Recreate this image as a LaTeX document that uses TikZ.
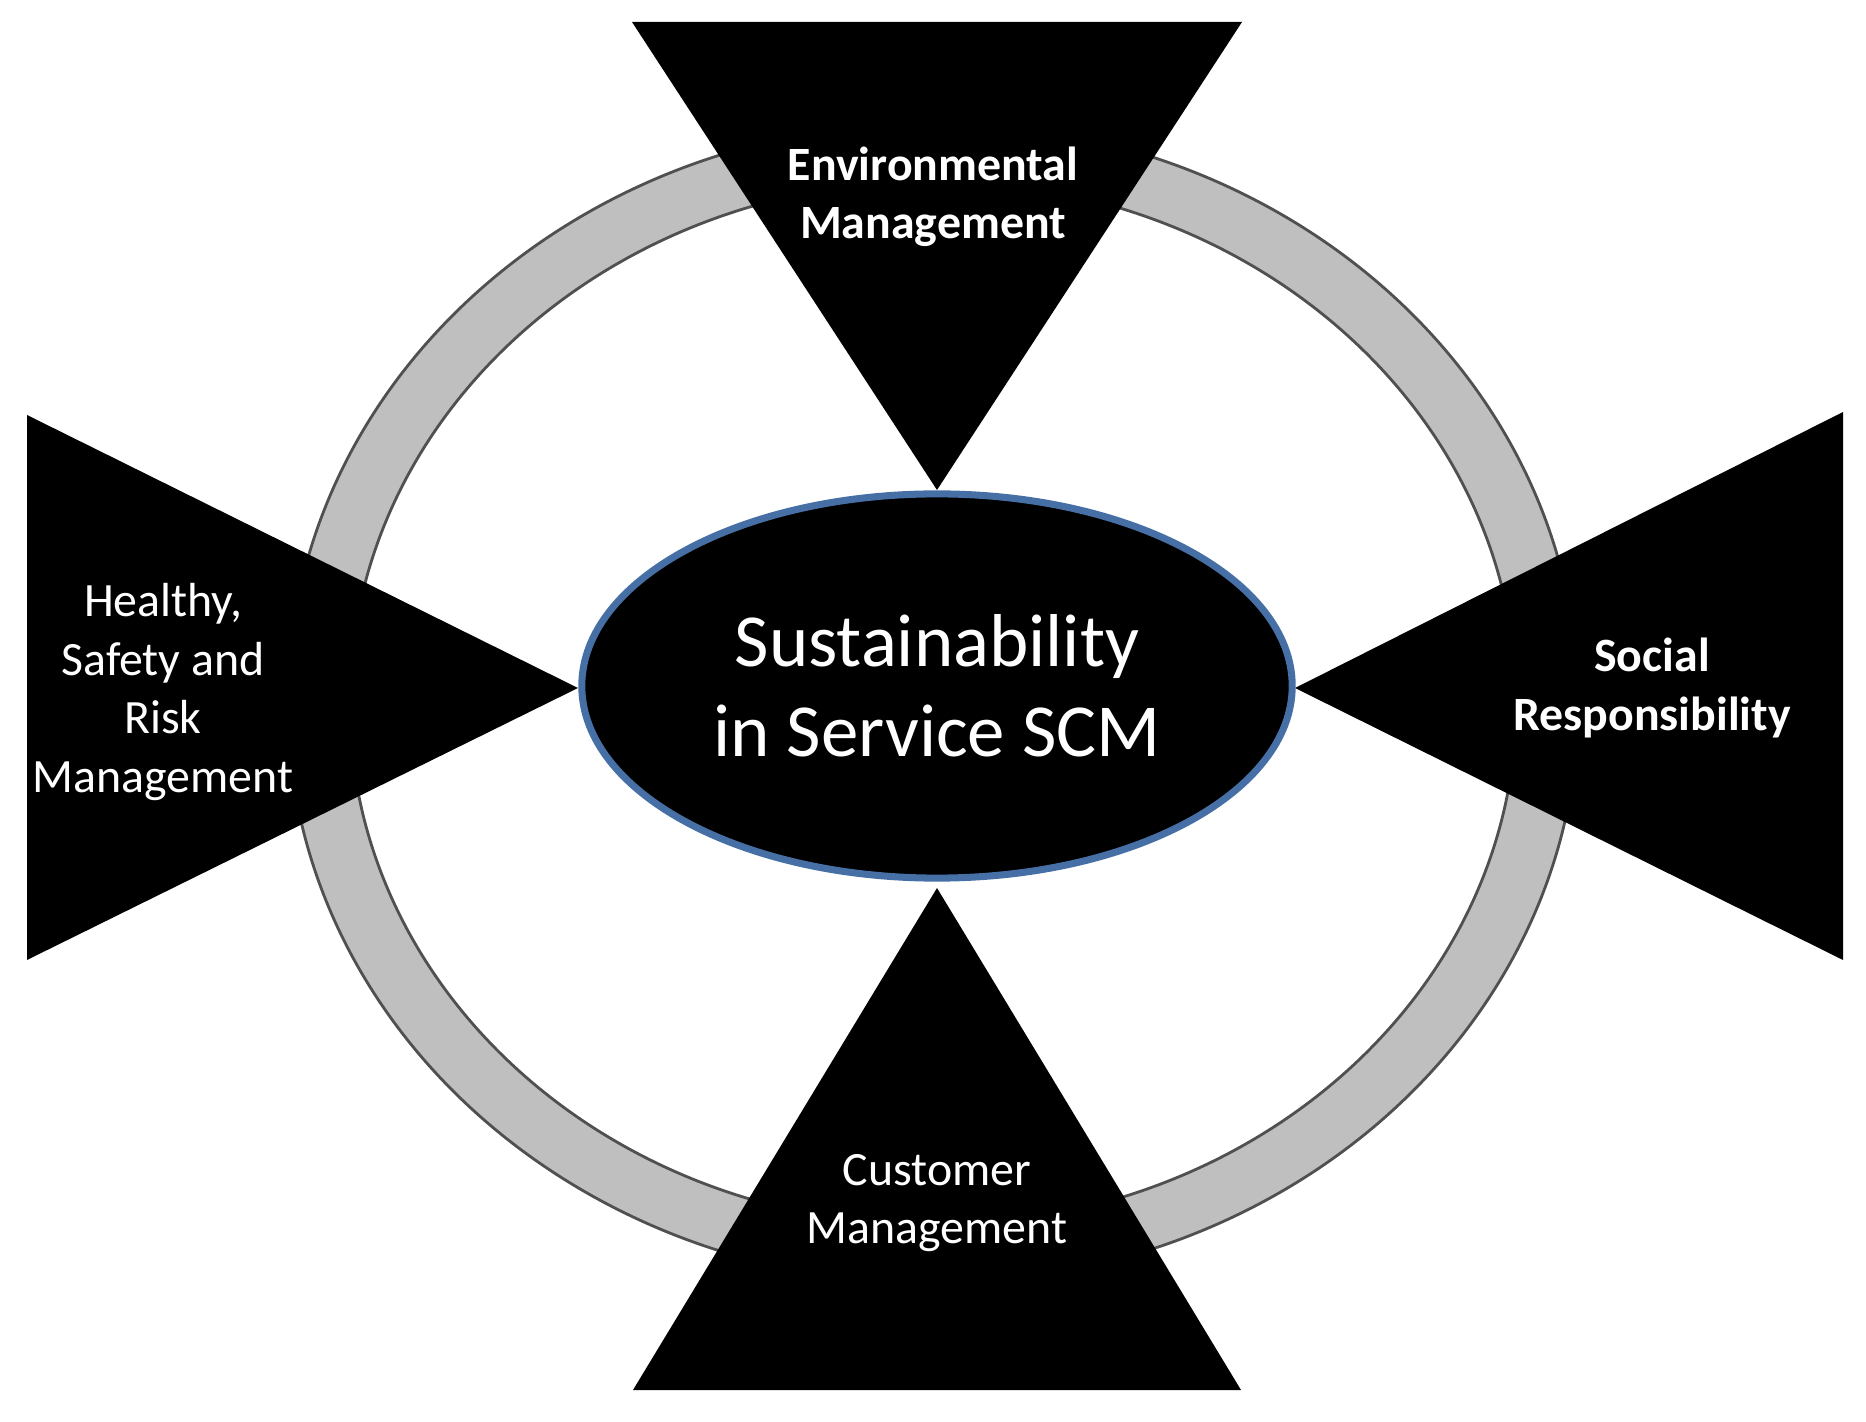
\documentclass[tikz,border=0pt]{standalone}
\usepackage{fontspec}
\setmainfont{Carlito}
\usetikzlibrary{shapes.geometric,positioning}
\definecolor{ringfill}{RGB}{191,191,191}
\definecolor{ringline}{RGB}{80,80,80}
\definecolor{hubline}{RGB}{70,112,165}

\begin{document}
\begin{tikzpicture}[x=0.01cm,y=-0.01cm,
  wedge/.style={fill=black},
  hub/.style={ellipse,fill=black,draw=hubline,line width=2pt,minimum width=7.1cm,minimum height=3.84cm,inner sep=0pt,
    text=white,align=center,font=\fontsize{21.3}{25.5}\selectfont},
  tag/.style={text=white,align=center,inner sep=0pt,font=\fontsize{13.6}{16.6}\selectfont},
  ring/.style={fill=ringfill,draw=ringline,line width=0.8pt,even odd rule}]

        \useasboundingbox (0,0) rectangle (1866,1422);

        % grey ring behind everything
        \path[ring] (933,703) ellipse [x radius=6.45cm,y radius=5.80cm]
                    (933,703) ellipse [x radius=5.83cm,y radius=5.22cm];

        % the four triangles
        \fill[wedge] (632,22) -- (1242,22) -- (937,490) -- cycle;
        \fill[wedge] (633,1390) -- (1241,1390) -- (937,888) -- cycle;
        \fill[wedge] (27,415) -- (27,960) -- (578,688) -- cycle;
        \fill[wedge] (1843,412) -- (1843,960) -- (1295,688) -- cycle;

        \node[hub] (S) at (937,686) {Sustainability\\in Service SCM};

        \node[tag,font=\fontsize{13.6}{16.6}\selectfont\bfseries] (E) at (933,197) {Environmental\\Management};
        \node[tag,font=\fontsize{13.6}{16.6}\selectfont\bfseries] (R) at (1652,688) {Social\\Responsibility};
        \node[tag] (C) at (937,1203) {Customer\\Management};
        \node[tag] (H) at (163,692) {Healthy,\\Safety and\\Risk\\Management};
      \end{tikzpicture}
\end{document}
